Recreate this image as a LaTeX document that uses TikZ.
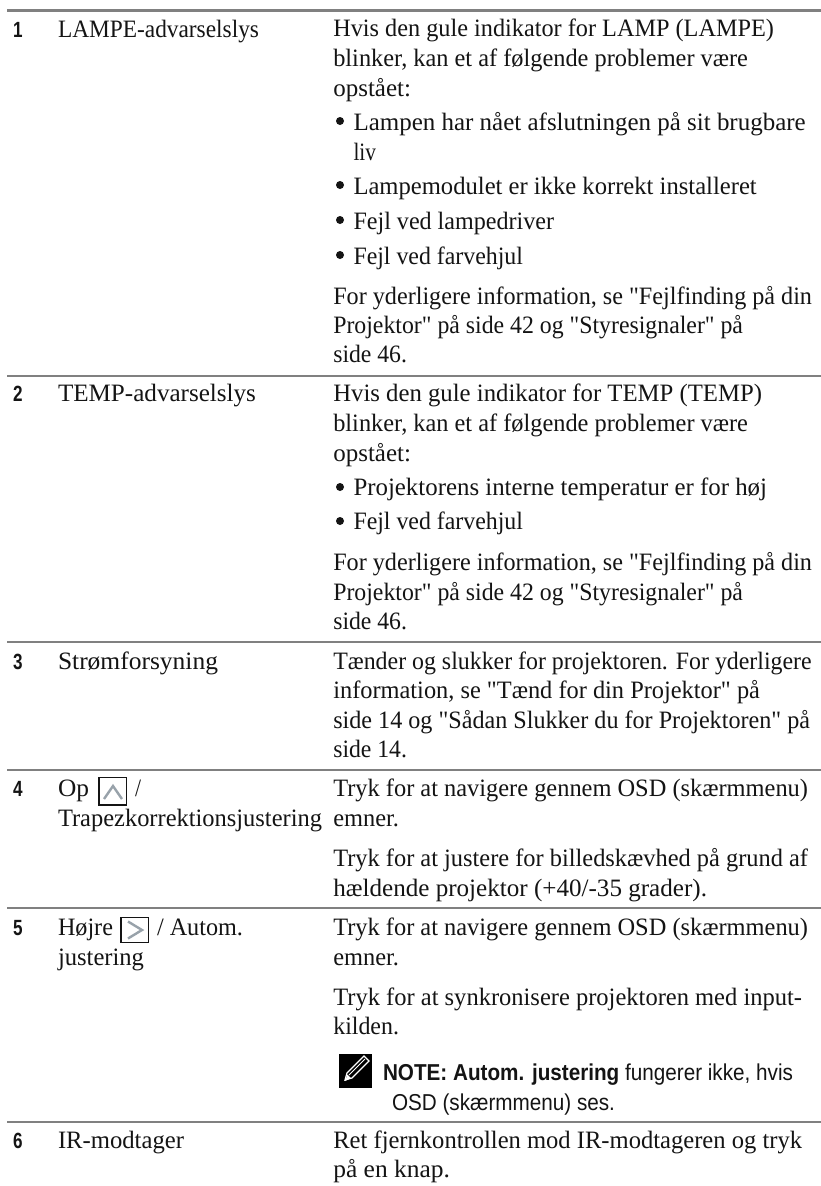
\documentclass[tikz,border=0pt]{standalone}
\usepackage{fontspec}
\usepackage{graphicx}
\setmainfont{Liberation Serif}[Ligatures=TeXOff]
\newfontfamily\sansf{Liberation Sans}[Ligatures=TeXOff]
\definecolor{rulegray}{HTML}{808080}
\definecolor{glyphgray}{HTML}{98A2AA}
\definecolor{inkc}{HTML}{141414}
% body line: name, left x, baseline y, right x, text
\newcommand\bodyln[5]{\pgfmathsetmacro\lnwd{#4-#2}\node[lineText] (#1) at (#2,#3) {\resizebox{\lnwd pt}{\height}{#5}};}
\newcommand\sansln[5]{\pgfmathsetmacro\lnwd{#4-#2}\node[lineText] (#1) at (#2,#3) {\resizebox{\lnwd pt}{\height}{\sansf\fontsize{23}{23}\selectfont #5}};}
\newcommand\numln[3]{\node[lineText] (#1) at (13,#2) {\resizebox{9.5pt}{\height}{\sansf\bfseries\fontsize{22}{22}\selectfont #3}};}
\tikzset{
 lineText/.style={anchor=base west,inner sep=0pt,outer sep=0pt,text=inkc,font=\fontsize{25}{25}\selectfont},
 tableRule/.style={draw=rulegray,line width=2.2pt},
 keyBox/.style={draw=inkc,line width=1.5pt,fill=white},
 keyGlyph/.style={draw=glyphgray,line width=2.4pt},
 bulletDot/.style={fill=inkc,draw=none}
}
\begin{document}
\begin{tikzpicture}[x=1pt,y=-1pt]
\useasboundingbox (0,0) rectangle (821,1186);
\fill[white] (0,0) rectangle (821,1186);
% rules
\foreach \yy in {10.5,376,642,770,908,1122}{\draw[tableRule] (7,\yy) -- (821,\yy);}
% numbers
\numln{n1}{37}{1}
\numln{n2}{401.7}{2}
\numln{n3}{669}{3}
\numln{n4}{796.7}{4}
\numln{n5}{935}{5}
\numln{n6}{1148}{6}
% left column
\bodyln{l1}{58}{37}{259}{LAMPE-advarselslys}
\bodyln{l2}{58}{401.7}{256}{TEMP-advarselslys}
\bodyln{l3}{58}{669}{218}{Strømforsyning}
\bodyln{l4a}{58}{796.7}{89}{Op}
\draw[keyBox] (99,777.5) rectangle (126.5,805);
\draw[keyGlyph] (104,799) -- (113,786) -- (122,799);
\bodyln{l4b}{135}{796.7}{141}{/}
\bodyln{l4c}{58}{826.7}{322}{Trapezkorrektionsjustering}
\bodyln{l5a}{58}{935}{113}{Højre}
\draw[keyBox] (121,917.5) rectangle (148.5,942.5);
\draw[keyGlyph] (128,921.5) -- (142,930) -- (128,938.5);
\bodyln{l5b}{157}{935}{243}{/ Autom.}
\bodyln{l5c}{58}{965}{144}{justering}
\bodyln{l6}{58}{1148}{184}{IR-modtager}
% row 1
\bodyln{a1}{333.3}{36.7}{774}{Hvis den gule indikator for LAMP (LAMPE)}
\bodyln{a2}{333.3}{66.7}{748}{blinker, kan et af følgende problemer være}
\bodyln{a3}{333.3}{96}{411}{opstået:}
\fill[bulletDot] (340,121) circle (4);
\bodyln{a4}{353.5}{130}{805.7}{Lampen har nået afslutningen på sit brugbare}
\bodyln{a5}{353.5}{160}{376}{liv}
\fill[bulletDot] (340,185) circle (4);
\bodyln{a6}{353.5}{194}{756.7}{Lampemodulet er ikke korrekt installeret}
\fill[bulletDot] (340,220) circle (4);
\bodyln{a7}{353.5}{229}{554}{Fejl ved lampedriver}
\fill[bulletDot] (340,255) circle (4);
\bodyln{a8}{353.5}{264}{523}{Fejl ved farvehjul}
\bodyln{a9}{333.3}{304}{812}{For yderligere information, se "Fejlfinding på din}
\bodyln{a10}{333.3}{333}{743}{Projektor" på side 42 og "Styresignaler" på}
\bodyln{a11}{333.3}{362}{407}{side 46.}
% row 2
\bodyln{b1}{333.3}{401.7}{762}{Hvis den gule indikator for TEMP (TEMP)}
\bodyln{b2}{333.3}{431.7}{748}{blinker, kan et af følgende problemer være}
\bodyln{b3}{333.3}{461}{411}{opstået:}
\fill[bulletDot] (340,487) circle (4);
\bodyln{b4}{353.5}{495.7}{767}{Projektorens interne temperatur er for høj}
\fill[bulletDot] (340,521) circle (4);
\bodyln{b5}{353.5}{529.5}{523}{Fejl ved farvehjul}
\bodyln{b6}{333.3}{570}{812}{For yderligere information, se "Fejlfinding på din}
\bodyln{b7}{333.3}{600}{743}{Projektor" på side 42 og "Styresignaler" på}
\bodyln{b8}{333.3}{629}{407}{side 46.}
% row 3
\bodyln{c1}{333.3}{669}{811.7}{Tænder og slukker for projektoren. For yderligere}
\bodyln{c2}{333.3}{698.7}{760}{information, se "Tænd for din Projektor" på}
\bodyln{c3}{333.3}{728}{810}{side 14 og "Sådan Slukker du for Projektoren" på}
\bodyln{c4}{333.3}{757}{407}{side 14.}
% row 4
\bodyln{d1}{333.3}{796.7}{808}{Tryk for at navigere gennem OSD (skærmmenu)}
\bodyln{d2}{333.3}{826.7}{399}{emner.}
\bodyln{d3}{333.3}{866}{808}{Tryk for at justere for billedskævhed på grund af}
\bodyln{d4}{333.3}{896}{707}{hældende projektor (+40/-35 grader).}
% row 5
\bodyln{e1}{333.3}{935}{808}{Tryk for at navigere gennem OSD (skærmmenu)}
\bodyln{e2}{333.3}{965}{399}{emner.}
\bodyln{e3}{333.3}{1005}{802}{Tryk for at synkronisere projektoren med input-}
\bodyln{e4}{333.3}{1034}{399}{kilden.}
% note icon
\fill[black] (339,1054) rectangle (372,1088);
\draw[white,line width=1.2pt] (345,1080) -- (347,1073) -- (364,1056) -- (369,1061) -- (352,1078) -- cycle;
\draw[white,line width=1pt] (349,1075) -- (365,1059);
\fill[white] (345,1081) -- (347.5,1074.5) -- (351,1078) -- cycle;
\sansln{e5}{383}{1080.7}{793}{\textbf{NOTE: Autom. justering} fungerer ikke, hvis}
\sansln{e6}{392}{1110}{615}{OSD (skærmmenu) ses.}
% row 6
\bodyln{f1}{333.3}{1148}{802}{Ret fjernkontrollen mod IR-modtageren og tryk}
\bodyln{f2}{333.3}{1177.7}{450}{på en knap.}
\end{tikzpicture}
\end{document}
